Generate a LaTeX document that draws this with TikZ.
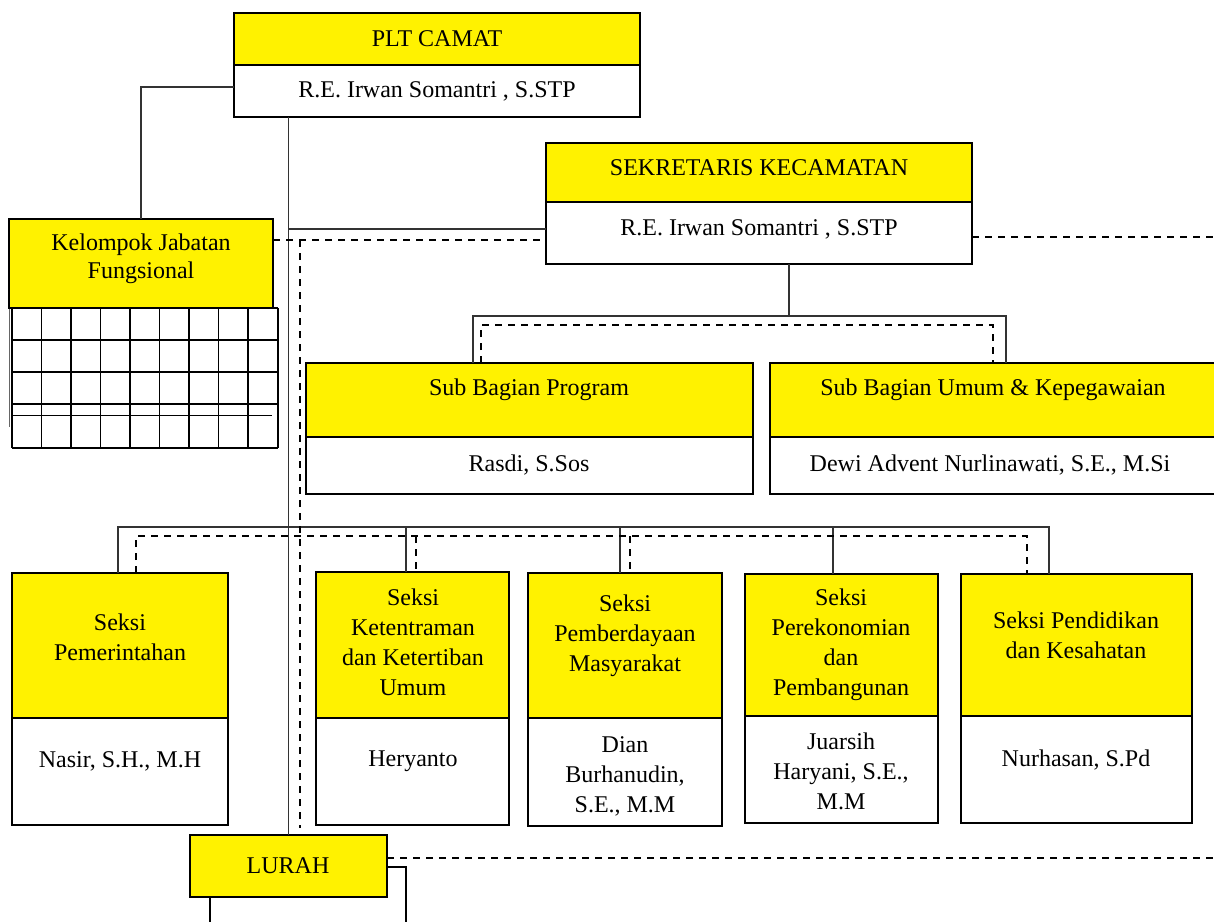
\documentclass[tikz,border=0pt]{standalone}
\usepackage{fontspec}
\setmainfont{Liberation Serif}
\newcommand\orgfont{\fontsize{24}{30}\selectfont}
\begin{document}
\begin{tikzpicture}[x=1pt,y=-1pt,
  bx/.style={draw=black, line width=2.2pt, inner sep=0pt, outer sep=0pt, anchor=north west},
  yb/.style={bx, fill=yellow},
  wb/.style={bx, fill=white},
  txt/.style={align=center, inner sep=0pt, font=\orgfont},
  conn/.style={draw=black!80, line width=1.1pt},
  dl/.style={draw=black, line width=1.7pt, dash pattern=on 7pt off 6pt}]
\useasboundingbox (0,0) rectangle (1214,921);
\fill[white] (0,0) rectangle (1214,921);
\coordinate (edgeR) at (1216,0);

% boxes
\node[yb, minimum width=406, minimum height=52] (camatY) at (234,13) {};
\node[wb, minimum width=406, minimum height=52] (camatW) at (234,65) {};
\node[yb, minimum width=426, minimum height=59] (sekY) at (546,143) {};
\node[wb, minimum width=426, minimum height=62] (sekW) at (546,202) {};
\draw[black!60, line width=1pt] (9,300) -- (9,427);
\node[yb, minimum width=264, minimum height=89] (kjfY) at (9,219) {};
\foreach \x in {12,41.5,71,100.5,130,159.5,189,218.5,248,278}
  \draw[line width=1.6pt] (\x,308) -- (\x,448);
\foreach \y in {308,340,372,404,448}
  \draw[line width=1.6pt] (12,\y) -- (278,\y);
\draw[line width=1pt] (12,415) -- (272,415);
\draw[line width=2.6pt] (12,308) -- (12,404);

\node[yb, minimum width=447, minimum height=74] (subprogY) at (306,363) {};
\node[wb, minimum width=447, minimum height=57] (subprogW) at (306,437) {};
\node[yb, minimum width=446, minimum height=74] (subumY) at (770,363) {};
\node[wb, minimum width=446, minimum height=57] (subumW) at (770,437) {};

\node[yb, minimum width=216, minimum height=145] (s1Y) at (12,573) {};
\node[wb, minimum width=216, minimum height=107] (s1W) at (12,718) {};
\node[yb, minimum width=193, minimum height=146] (s2Y) at (316,572) {};
\node[wb, minimum width=193, minimum height=107] (s2W) at (316,718) {};
\node[yb, minimum width=194, minimum height=145] (s3Y) at (528,573) {};
\node[wb, minimum width=194, minimum height=108] (s3W) at (528,718) {};
\node[yb, minimum width=193, minimum height=142] (s4Y) at (745,574) {};
\node[wb, minimum width=193, minimum height=107] (s4W) at (745,716) {};
\node[yb, minimum width=231, minimum height=142] (s5Y) at (961,574) {};
\node[wb, minimum width=231, minimum height=107] (s5W) at (961,716) {};

\node[wb, minimum width=196, minimum height=80] (below) at (210,867) {};
\node[yb, minimum width=197, minimum height=62] (lurah) at (190,835) {};

% texts
\node[txt] (t1) at (437,39) {PLT CAMAT};
\node[txt] (t2) at (437,91) {R.E. Irwan Somantri , S.STP};
\node[txt] (t3) at (759,168) {SEKRETARIS KECAMATAN};
\node[txt] (t4) at (759,229) {R.E. Irwan Somantri , S.STP};
\node[txt, font=\fontsize{24}{28}\selectfont] (t5) at (141,259) {Kelompok Jabatan\\Fungsional};
\node[txt] (t6) at (529,390) {Sub Bagian Program};
\node[txt] (t7) at (529,465) {Rasdi, S.Sos};
\node[txt] (t8) at (993,390) {Sub Bagian Umum \& Kepegawaian};
\node[txt] (t9) at (990,465) {Dewi Advent Nurlinawati, S.E., M.Si};
\node[txt] (t10) at (120,637) {Seksi\\Pemerintahan};
\node[txt] (t11) at (120,761) {Nasir, S.H., M.H};
\node[txt] (t12) at (413,642) {Seksi\\Ketentraman\\dan Ketertiban\\Umum};
\node[txt] (t13) at (413,761) {Heryanto};
\node[txt] (t14) at (625,636) {Seksi\\Pemberdayaan\\Masyarakat};
\node[txt] (t15) at (625,776) {Dian\\Burhanudin,\\S.E., M.M};
\node[txt] (t16) at (841,645) {Seksi\\Perekonomian\\dan\\Pembangunan};
\node[txt] (t17) at (841,771) {Juarsih\\Haryani, S.E.,\\M.M};
\node[txt] (t18) at (1076,635) {Seksi Pendidikan\\dan Kesahatan};
\node[txt] (t19) at (1076,760) {Nurhasan, S.Pd};
\node[txt] (t20) at (288,866) {LURAH};

% solid connectors
\draw[conn] ([yshift=4pt]camatW.west) -| (kjfY.north);
\draw[conn] (lurah.north |- camatW.south) -- (lurah.north);
\draw[conn] ([yshift=4pt]sekW.west) -- ([yshift=4pt]sekW.west -| lurah.north);
\coordinate (b0) at (789,316);
\coordinate (b1) at (473,316);
\coordinate (b2) at (1006,316);
\draw[conn] (sekW.south -| b0) -- (b0);
\draw[conn] (subprogY.north -| b1) -- (b1) -- (b2) -- (subumY.north -| b2);
\coordinate (h1) at (118,527);
\coordinate (h2) at (406,527);
\coordinate (h3) at (620,527);
\coordinate (h4) at (833,527);
\coordinate (h5) at (1049,527);
\draw[conn] (s1Y.north -| h1) -- (h1) -- (h5) -- (s5Y.north -| h5);
\draw[conn] (h2) -- (s2Y.north -| h2);
\draw[conn] (h3) -- (s3Y.north -| h3);
\draw[conn] (h4) -- (s4Y.north -| h4);

% dashed connectors
\coordinate (dj) at (300,240);
\draw[dl] (kjfY.east |- dj) -- ([yshift=-7pt]sekW.west);
\draw[dl] (dj) -- ([yshift=7pt]lurah.north -| dj);
\draw[dl] ([yshift=-4pt]sekW.east) -- ([yshift=-4pt]sekW.east -| edgeR);
\coordinate (c1) at (481,325);
\coordinate (c2) at (993,325);
\draw[dl] (subprogY.north -| c1) -- (c1) -- (c2) -- (subumY.north -| c2);
\coordinate (k1) at (136,536);
\coordinate (k2) at (416,536);
\coordinate (k3) at (630,536);
\coordinate (k5) at (1027,536);
\draw[dl] (s1Y.north -| k1) -- (k1) -- (k5) -- (s5Y.north -| k5);
\draw[dl] (k2) -- (s2Y.north -| k2);
\draw[dl] (k3) -- (s3Y.north -| k3);
\draw[dl] ([yshift=8pt]lurah.east) -- ([yshift=8pt]lurah.east -| edgeR);
\end{tikzpicture}
\end{document}
